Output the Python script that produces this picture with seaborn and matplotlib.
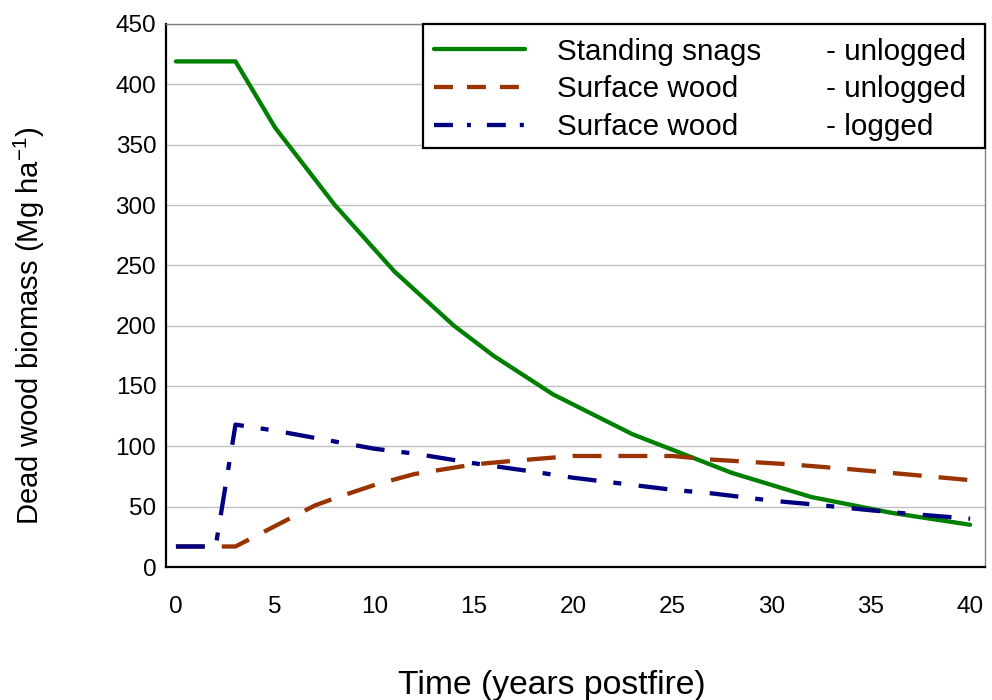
import matplotlib
matplotlib.use("Agg")
import matplotlib.pyplot as plt
from matplotlib.lines import Line2D
from matplotlib.patches import Rectangle
import numpy as np
import pandas as pd
import seaborn as sns

# Dead wood biomass (Mg/ha) over time since fire
years_snags = [0, 3, 5, 8, 11, 14, 16, 19, 23, 28, 32, 36, 40]
snags_unlogged = [419, 419, 364, 300, 245, 200, 175, 143, 110, 78, 58, 45, 35]

years_wood = [0, 3, 5, 7, 8, 10, 12, 15, 17, 20, 25, 27, 29, 31, 34, 36, 38, 40]
wood_unlogged = [17, 17, 34, 51, 57, 68, 77, 85, 88, 92, 92, 89, 87, 85, 81, 78, 75, 72]

years_logged = [0, 2, 3, 5, 7, 10, 12, 15, 18, 20, 22, 25, 27, 30, 32, 35, 37, 40]
wood_logged = [17, 17, 118, 113, 107, 98, 94, 86, 79, 74, 70, 64, 61, 55, 52, 47, 44, 40]

series_names = ["Standing snags", "Surface wood", "Surface wood "]
series_suffix = ["- unlogged", "- unlogged", "- logged"]
colors = ["#008000", "#993300", "#000080"]

yticks = list(range(0, 451, 50))
xticks = list(range(0, 41, 5))

df = pd.concat([
    pd.DataFrame({"year": years_snags, "biomass": snags_unlogged, "series": series_names[0]}),
    pd.DataFrame({"year": years_wood, "biomass": wood_unlogged, "series": series_names[1]}),
    pd.DataFrame({"year": years_logged, "biomass": wood_logged, "series": series_names[2]}),
], ignore_index=True)

sns.set_style("white")
plt.rcParams["font.family"] = ["Liberation Sans", "DejaVu Sans"]
plt.rcParams["mathtext.fontset"] = "custom"
plt.rcParams["mathtext.rm"] = "Liberation Sans"
for key in ("text.color", "axes.labelcolor", "xtick.color", "ytick.color"):
    plt.rcParams[key] = "black"

fig = plt.figure(figsize=(9.92, 7.0), dpi=100)
ax = fig.add_axes([166 / 992, 1 - 567 / 700, (985 - 166) / 992, (567 - 24) / 700])

lw = 3.1
dash_map = {
    series_names[0]: "",
    series_names[1]: (6.7, 3.95),
    series_names[2]: (6.7, 3.95, 1.86, 4.07),
}
sns.lineplot(data=df, x="year", y="biomass", hue="series", style="series",
             hue_order=series_names, style_order=series_names,
             palette=dict(zip(series_names, colors)), dashes=dash_map,
             linewidth=lw, sort=False, estimator=None, legend=False, ax=ax)

ax.set_xlim(-0.5, 40.75)
ax.set_ylim(0, 450)
ax.set_xticks(xticks)
ax.set_yticks(yticks)
ax.tick_params(axis="both", length=0, labelsize=17.5, colors="black")
ax.tick_params(axis="x", pad=21)
ax.tick_params(axis="y", pad=7)
ax.yaxis.grid(True, color="#c0c0c0", linewidth=1.0)
ax.xaxis.grid(False)
ax.set_axisbelow(True)

for side in ("left", "bottom"):
    ax.spines[side].set_color("black")
    ax.spines[side].set_linewidth(1.6)
for side in ("top", "right"):
    ax.spines[side].set_color("#808080")
    ax.spines[side].set_linewidth(1.0)

ax.set_xlabel("Time (years postfire)", fontsize=24.3)
ax.set_ylabel(r"Dead wood biomass (Mg ha$^{\mathregular{-1}}$)", fontsize=21.1)
ax.xaxis.set_label_coords((552 - 166) / 819, (567 - 670) / 543)
ax.yaxis.set_label_coords((47 - 166) / 819, 0.5 - 30 / 543)

# Legend: framed box with line samples, names and treatment suffixes
leg_fs = 21.3
box = Rectangle(((423 - 166) / 819, 1 - (148 - 24) / 543),
                (985 - 423) / 819, (148 - 24) / 543,
                transform=ax.transAxes, facecolor="white", edgecolor="black",
                linewidth=1.6, zorder=4, clip_on=False)
ax.add_patch(box)

handles = [
    Line2D([], [], color=colors[0], linewidth=lw),
    Line2D([], [], color=colors[1], linewidth=lw, dashes=(4.4, 3.25)),
    Line2D([], [], color=colors[2], linewidth=lw, dashes=(4.4, 3.25, 0.93, 3.7)),
]
leg = ax.legend(handles, [n.strip() for n in series_names],
                loc="upper left", bbox_to_anchor=((434 - 166) / 819, 1 - (37.5 - 24) / 543),
                frameon=False, fontsize=leg_fs, borderpad=0, borderaxespad=0,
                handlelength=91 / 29.6, handletextpad=32 / 29.6, labelspacing=0.33)
leg.set_zorder(5)

for txt, suffix in zip(leg.get_texts(), series_suffix):
    ax.annotate(suffix, xy=(826, 0.5), xycoords=("figure pixels", txt),
                va="center", ha="left", fontsize=leg_fs, zorder=6,
                annotation_clip=False)

fig.canvas.draw()
fig.savefig("out.png", dpi=100)
